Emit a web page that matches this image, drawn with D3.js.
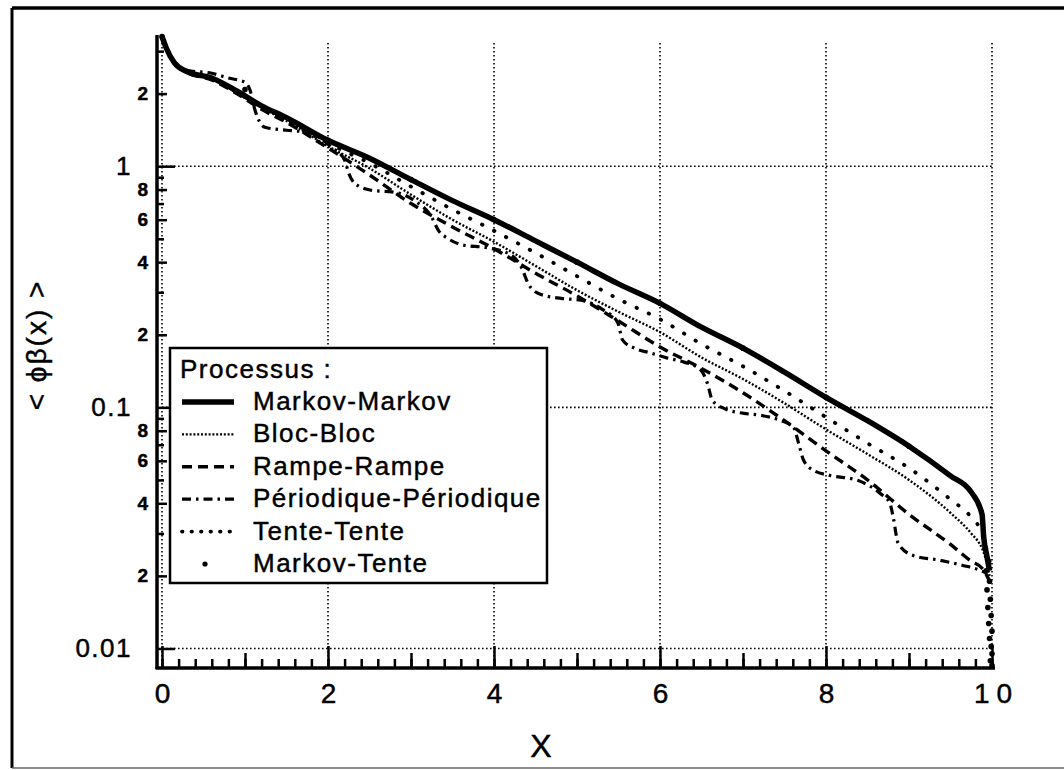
<!DOCTYPE html>
<html>
<head>
<meta charset="utf-8">
<script src="https://cdn.jsdelivr.net/npm/d3@7"></script>
<style>
body { margin: 0; background: #fff; }
text { stroke: #000; stroke-width: 0.45px; }
</style>
</head>
<body>
<div id="chart"></div>
<script>
var w = 1064
var h = 770
var font = "'Liberation Sans', Arial, Helvetica, sans-serif"

var names = ["Markov-Markov", "Bloc-Bloc", "Rampe-Rampe", "Périodique-Périodique", "Tente-Tente", "Markov-Tente"];

// common x grid for the smooth curves
var xGrid = [0, 0.05, 0.15, 0.3, 0.6, 0.9, 1.2, 1.5, 2, 2.5, 3, 3.5, 4, 4.5, 5, 5.5, 6, 6.5, 7, 7.5, 8, 8.5, 9, 9.5, 9.75, 9.88, 9.9, 9.94, 9.97];

var markovMarkov = [3.45, 3.1, 2.68, 2.47, 2.32, 2.05, 1.78, 1.59, 1.28, 1.08, 0.88, 0.72, 0.60, 0.49, 0.40, 0.325, 0.27, 0.215, 0.176, 0.14, 0.11, 0.088, 0.069, 0.052, 0.0445, 0.036, 0.029, 0.024, 0.021];
var blocBloc = [3.45, 3.1, 2.68, 2.46, 2.30, 2.02, 1.75, 1.54, 1.21, 0.98, 0.762, 0.60, 0.486, 0.386, 0.306, 0.249, 0.205, 0.161, 0.131, 0.104, 0.081, 0.064, 0.050, 0.0365, 0.030, 0.026, 0.025, 0.0225, 0.020];
var rampeRampe = [3.45, 3.1, 2.68, 2.45, 2.28, 2.0, 1.72, 1.52, 1.19, 0.92, 0.70, 0.56, 0.455, 0.36, 0.29, 0.228, 0.178, 0.145, 0.115, 0.088, 0.066, 0.050, 0.036, 0.027, 0.023, 0.0215, 0.021, 0.020, 0.019];
var tenteTente = [3.45, 3.1, 2.68, 2.47, 2.32, 2.03, 1.75, 1.55, 1.245, 1.03, 0.823, 0.661, 0.54, 0.437, 0.35, 0.281, 0.232, 0.183, 0.148, 0.117, 0.091, 0.071, 0.056, 0.0415, 0.035, 0.030, 0.028, 0.024, 0.021];

// periodic process: steps roughly every 1.1
var xPeriodique = [0, 0.15, 0.3, 0.6, 0.8, 1.0, 1.06, 1.12, 1.24, 1.5, 1.77, 2.04, 2.2, 2.25, 2.32, 2.52, 2.8, 3.04, 3.25, 3.33, 3.45, 3.64, 3.88, 4.17, 4.33, 4.41, 4.53, 4.81, 5.05, 5.32, 5.49, 5.55, 5.69, 5.89, 6.09, 6.29, 6.49, 6.57, 6.63, 6.77, 7.01, 7.21, 7.45, 7.61, 7.67, 7.73, 7.85, 8.05, 8.38, 8.65, 8.77, 8.81, 8.87, 9.05, 9.38, 9.65, 9.86, 9.94];
var periodique = [3.45, 2.70, 2.50, 2.43, 2.32, 2.23, 2.07, 1.71, 1.45, 1.41, 1.38, 1.20, 1.06, 0.935, 0.85, 0.795, 0.78, 0.72, 0.614, 0.542, 0.50, 0.47, 0.461, 0.435, 0.381, 0.327, 0.297, 0.283, 0.278, 0.253, 0.225, 0.19, 0.176, 0.168, 0.16, 0.154, 0.143, 0.126, 0.107, 0.099, 0.0944, 0.0927, 0.0883, 0.0826, 0.0709, 0.0603, 0.0548, 0.0522, 0.0498, 0.044, 0.040, 0.035, 0.0273, 0.0243, 0.0232, 0.0221, 0.0211, 0.0205];

// Markov-Tente is drawn as dots
var xMarkovTente = [0, 1, 2, 3, 4, 5, 6, 7, 8, 9, 9.92, 9.96, 9.93, 9.97, 9.94, 9.98, 9.95, 9.99, 9.96, 10, 9.97, 9.99, 10, 9.98, 10];
var markovTente = [3.45, 2.08, 1.28, 0.88, 0.60, 0.40, 0.27, 0.176, 0.11, 0.069, 0.026, 0.023, 0.021, 0.019, 0.0175, 0.016, 0.0148, 0.0137, 0.0127, 0.0118, 0.011, 0.0102, 0.0095, 0.0089, 0.0085];

var xTicks = [0, 2, 4, 6, 8, 10];
var xOdd = [1, 3, 5, 7, 9];
var yMajor = [0.01, 0.1, 1];
var yLabeled = [0.02, 0.04, 0.06, 0.08, 0.2, 0.4, 0.6, 0.8, 2];
var yUnlabeled = [0.03, 0.05, 0.07, 0.09, 0.3, 0.5, 0.7, 0.9, 3];

var x = d3.scaleLinear().domain([0, 10]).range([162, 992]);
var y = d3.scaleLog().domain([0.0083, 3.5]).range([668, 35]);

var svg = d3.select("#chart").append("svg")
    .attr("width", w)
    .attr("height", h)
    .style("font-family", font);

// outer frame
svg.append("line").attr("x1", 12).attr("x2", 12).attr("y1", 8).attr("y2", 768)
    .attr("stroke", "#000").attr("stroke-width", 3);
svg.append("line").attr("x1", 12).attr("x2", w).attr("y1", 8).attr("y2", 8)
    .attr("stroke", "#000").attr("stroke-width", 3.5);
svg.append("line").attr("x1", 12).attr("x2", w).attr("y1", 768).attr("y2", 768)
    .attr("stroke", "#666").attr("stroke-width", 1.5);

// dotted grid
var grid = svg.append("g")
    .attr("stroke", "#000")
    .attr("stroke-width", 1.6)
    .attr("stroke-dasharray", "1.6,2.4");
grid.selectAll("line.v").data(xTicks).enter().append("line")
    .attr("class", "v")
    .attr("x1", function(d) { return x(d); })
    .attr("x2", function(d) { return x(d); })
    .attr("y1", 43)
    .attr("y2", 668);
grid.selectAll("line.h").data(yMajor).enter().append("line")
    .attr("class", "h")
    .attr("x1", x(0))
    .attr("x2", x(10))
    .attr("y1", function(d) { return y(d); })
    .attr("y2", function(d) { return y(d); });

// curves
var line = d3.line()
    .curve(d3.curveMonotoneX)
    .x(function(d) { return x(d[0]); })
    .y(function(d) { return y(d[1]); });

function pairs(xs, vs) { return xs.map(function(v, i) { return [v, vs[i]]; }); }

var styles = [
  { w: 5.5, dash: null },
  { w: 2.4, dash: "2,1.8" },
  { w: 3.4, dash: "10,6" },
  { w: 3.2, dash: "9,5,2.5,5" },
  { w: 3.8, dash: "0.5,13", cap: "round" }
];

var curves = [
  pairs(xGrid, markovMarkov),
  pairs(xGrid, blocBloc),
  pairs(xGrid, rampeRampe),
  pairs(xPeriodique, periodique),
  pairs(xGrid, tenteTente)
];

// draw thinner styles first, Markov-Markov on top
[4, 1, 2, 3, 0].forEach(function(i) {
  svg.append("path")
      .attr("d", line(curves[i]))
      .attr("fill", "none")
      .attr("stroke", "#000")
      .attr("stroke-width", styles[i].w)
      .attr("stroke-linejoin", "round")
      .attr("stroke-linecap", styles[i].cap || "butt")
      .attr("stroke-dasharray", styles[i].dash);
});

svg.selectAll("circle.mt").data(pairs(xMarkovTente, markovTente)).enter()
  .append("circle")
    .attr("class", "mt")
    .attr("cx", function(d) { return x(d[0]); })
    .attr("cy", function(d) { return y(d[1]); })
    .attr("r", 2.8)
    .attr("fill", "#000");

// axes
function styleAxis(g, size, weight) {
  g.select(".domain").remove();
  g.selectAll("line").attr("stroke", "#000").attr("stroke-width", 2.5);
  g.selectAll("text").attr("font-family", font).attr("font-size", size)
      .attr("font-weight", weight || "normal").attr("fill", "#000");
}

svg.append("g").attr("transform", "translate(0,668)")
    .call(d3.axisBottom(x).tickValues(x.ticks(50)).tickSize(-9).tickFormat(""))
    .call(styleAxis, 27);
svg.append("g").attr("transform", "translate(0,668)")
    .call(d3.axisBottom(x).tickValues(xOdd).tickSize(-15).tickFormat(""))
    .call(styleAxis, 27);
var xLab = svg.append("g").attr("transform", "translate(0,668)")
    .call(d3.axisBottom(x).tickValues(xTicks).tickSize(-22).tickPadding(15))
    .call(styleAxis, 28);
xLab.selectAll("text").filter(function(d) { return d == 10; })
    .attr("letter-spacing", 7).attr("dx", 4);

svg.append("g").attr("transform", "translate(157,0)")
    .call(d3.axisLeft(y).tickValues(yUnlabeled).tickSize(-7).tickFormat(""))
    .call(styleAxis, 18);
svg.append("g").attr("transform", "translate(157,0)")
    .call(d3.axisLeft(y).tickValues(yLabeled).tickSize(-10).tickPadding(9)
      .tickFormat(function(d) { return Math.round(d / Math.pow(10, Math.floor(Math.log10(d) + 1e-9))); }))
    .call(styleAxis, 19, "bold");
svg.append("g").attr("transform", "translate(157,0)")
    .call(d3.axisLeft(y).tickValues(yMajor).tickSize(-18).tickPadding(25)
      .tickFormat(function(d) { return String(d); }))
    .call(styleAxis, 26)
  .selectAll("text").attr("letter-spacing", 1.5);

// axis lines
svg.append("line").attr("x1", 157).attr("x2", 157).attr("y1", 35).attr("y2", 669)
    .attr("stroke", "#000").attr("stroke-width", 3.5);
svg.append("line").attr("x1", 155.5).attr("x2", 995).attr("y1", 668).attr("y2", 668)
    .attr("stroke", "#000").attr("stroke-width", 3.5);

// axis titles
svg.append("text")
    .attr("x", 541).attr("y", 757)
    .attr("text-anchor", "middle")
    .attr("font-size", 32)
    .text("X");

svg.append("text")
    .attr("transform", "translate(46,345) rotate(-90)")
    .attr("text-anchor", "middle")
    .attr("font-size", 28)
    .attr("letter-spacing", 2)
    .text("< ϕβ(x) >");

// legend
var legend = svg.append("g");
legend.append("rect")
    .attr("x", 170).attr("y", 348)
    .attr("width", 377).attr("height", 235)
    .attr("fill", "#fff")
    .attr("stroke", "#000")
    .attr("stroke-width", 2.5);
legend.append("text")
    .attr("x", 180).attr("y", 378)
    .attr("font-size", 26)
    .attr("letter-spacing", 1.5)
    .text("Processus :");

var rows = legend.selectAll("g.row").data(names).enter()
  .append("g")
    .attr("class", "row")
    .attr("transform", function(d, i) { return "translate(0," + (410 + i * 32.4) + ")"; });

rows.append("text")
    .attr("x", 253)
    .attr("font-size", 26)
    .attr("letter-spacing", 1.5)
    .text(function(d) { return d; });

rows.filter(function(d, i) { return i < 5; }).append("line")
    .attr("x1", 182).attr("x2", 234)
    .attr("y1", -8).attr("y2", -8)
    .attr("stroke", "#000")
    .attr("stroke-width", function(d, i) { return styles[i].w; })
    .attr("stroke-linecap", function(d, i) { return styles[i].cap || "butt"; })
    .attr("stroke-dasharray", function(d, i) { return i == 4 ? "0.5,9" : styles[i].dash; });

rows.filter(function(d, i) { return i == 5; }).append("circle")
    .attr("cx", 205).attr("cy", -8).attr("r", 2.6);
</script>
</body>
</html>
